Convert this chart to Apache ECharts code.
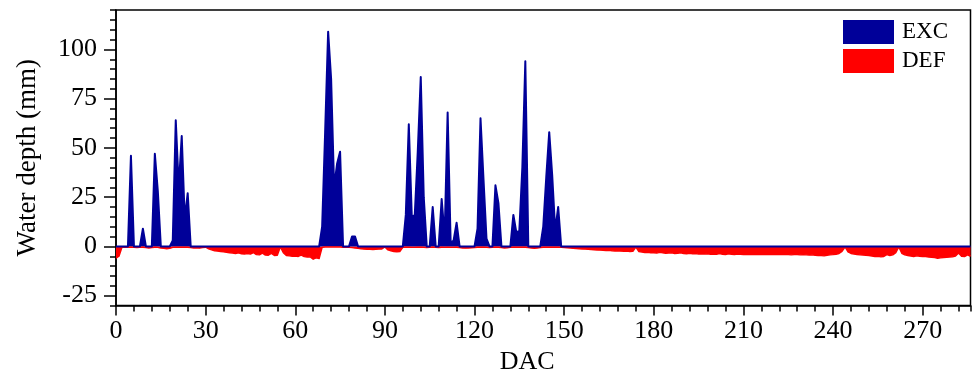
<!DOCTYPE html>
<html>
<head>
<meta charset="utf-8">
<script src="https://cdn.jsdelivr.net/npm/echarts@6/dist/echarts.min.js"></script>
<style>html,body{margin:0;padding:0;background:#fff}#c{width:974px;height:377px}</style>
</head>
<body>
<div id="c"></div>
<script>
// EXC (water excess, mm): days and values (sparse; zero elsewhere)
const excDay = [0,4,5,6,8,9,10,12,13,14,15,18,19,20,21,22,23,24,25,68,69,70,71,72,73,74,75,76,78,79,80,81,96,97,98,99,100,101,102,103,104,105,106,107,108,109,110,111,112,113,114,115,120,121,122,123,124,125,126,127,128,129,132,133,134,135,136,137,138,142,143,144,145,146,147,148,149,286];
const excVal = [0,0,46,0,0,9,0,0,47,28,0,0,3,64,30,56,14,27,0,0,10,58,109,85,30,42,48,0,0,5,5,0,0,16,62,15,16,48,86,25,0,0,20,0,0,24,5,68,2,3,12,0,0,9,65,34,4,0,0,31,22,0,0,16,7,8,40,94,0,0,10,35,58,36,8,20,0,0];
// DEF (water deficit, mm): one value per day, day = index (0..286)
const defVal = [
-6,-5,-0.5,-0.5,-0.4,-0.4,-0.5,-0.6,-0.5,-0.4,
-0.6,-0.8,-0.6,-0.4,-0.5,-0.8,-1.0,-1.2,-1.0,-0.5,
-0.4,-0.4,-0.4,-0.4,-0.4,-0.6,-0.8,-0.7,-0.9,-0.6,
-0.4,-1.2,-1.8,-2.2,-2.4,-2.6,-2.8,-3.0,-3.2,-3.4,
-3.6,-3.3,-3.8,-3.9,-3.6,-3.9,-3.2,-4.2,-4.3,-3.4,
-4.4,-4.5,-3.6,-4.6,-4.5,-0.3,-3.2,-4.6,-4.8,-5.0,
-4.9,-5.1,-4.4,-5.2,-5.4,-5.3,-6.5,-5.8,-6.2,-0.5,
-0.3,-0.3,-0.3,-0.3,-0.3,-0.3,-0.4,-0.5,-0.5,-0.6,
-0.8,-1.0,-1.2,-1.4,-1.5,-1.5,-1.6,-1.5,-1.4,-1.3,
-0.3,-1.8,-2.2,-2.6,-2.8,-2.6,-0.5,-0.4,-0.4,-0.5,
-0.5,-0.4,-0.4,-0.5,-0.6,-0.5,-0.4,-0.5,-0.6,-0.4,
-0.5,-0.4,-0.5,-0.5,-0.4,-0.6,-0.8,-0.9,-0.8,-0.7,
-0.6,-0.4,-0.4,-0.4,-0.5,-0.6,-0.5,-0.4,-0.4,-0.6,
-0.8,-0.7,-0.5,-0.4,-0.4,-0.4,-0.4,-0.4,-0.6,-0.8,
-1.0,-0.8,-0.6,-0.4,-0.4,-0.4,-0.4,-0.4,-0.4,-0.5,
-0.6,-0.7,-0.8,-1.0,-1.1,-1.2,-1.3,-1.4,-1.5,-1.6,
-1.7,-1.8,-1.9,-2.0,-2.1,-2.0,-2.2,-2.3,-2.2,-2.4,
-2.5,-2.4,-2.6,-2.5,-0.3,-2.6,-2.9,-3.1,-3.0,-3.3,
-3.2,-3.4,-3.0,-3.3,-3.5,-3.4,-3.2,-3.6,-3.5,-3.2,
-3.6,-3.7,-3.5,-3.8,-3.6,-3.9,-3.8,-3.9,-3.7,-4.0,
-3.9,-4.0,-3.6,-4.0,-4.1,-3.8,-4.0,-4.1,-3.9,-4.0,
-4.1,-4.0,-4.1,-4.0,-4.1,-4.2,-4.1,-4.0,-4.2,-4.1,
-4.2,-4.1,-4.0,-4.2,-4.1,-4.2,-4.3,-4.2,-4.1,-4.3,
-4.2,-4.3,-4.4,-4.3,-4.5,-4.6,-4.7,-4.8,-4.5,-4.3,
-4.2,-4.0,-3.6,-2.5,-0.3,-2.8,-3.6,-3.9,-4.1,-4.3,
-4.4,-4.5,-4.6,-4.9,-5.1,-5.0,-5.3,-5.1,-4.2,-4.6,
-4.3,-3.2,-0.3,-3.5,-4.3,-4.6,-4.9,-5.1,-4.8,-5.0,
-5.2,-5.1,-5.4,-5.5,-5.7,-6.0,-5.8,-5.6,-5.5,-5.4,
-5.3,-4.9,-3.4,-5.0,-5.2,-4.3,-5.0
];
const xMajorTicks = [0,30,60,90,120,150,180,210,240,270];
const yMajorTicks = [-25,0,25,50,75,100];
const seriesNames = ['EXC','DEF'];
const axisNames = {x:'DAC', y:'Water depth (mm)'};

const FONT = 'Liberation Serif';
const BLUE = '#000099';
const RED = '#ff0000';
const black = {color:'#000', width:1.5};

const chart = echarts.init(document.getElementById('c'), null, {renderer:'canvas'});
chart.setOption({
  animation:false,
  backgroundColor:'#fff',
  grid:{left:116, right:3.5, top:10, bottom:71.5, outerBoundsMode:'none', containLabel:false,
        show:true, borderColor:'#000', borderWidth:1.5, backgroundColor:'transparent'},
  legend:{
    data:seriesNames, orient:'vertical', left:843, top:20, padding:0,
    itemWidth:51, itemHeight:24, itemGap:5, icon:'rect',
    textStyle:{fontFamily:FONT, fontSize:23, color:'#000', padding:[0,0,0,3]}
  },
  xAxis:[
    {type:'value', min:0, max:286, position:'bottom',
     axisLine:{show:true, onZero:false, lineStyle:black},
     axisTick:{show:true, inside:false, length:10, customValues:xMajorTicks, lineStyle:black},
     axisLabel:{customValues:xMajorTicks, fontFamily:FONT, fontSize:26, color:'#000', margin:13},
     splitLine:{show:false},
     name:axisNames.x, nameLocation:'middle', nameGap:40,
     nameTextStyle:{fontFamily:FONT, fontSize:26, color:'#000', padding:[0,32,0,0]}},
    {type:'value', min:0, max:286, interval:6, position:'bottom',
     axisLine:{show:false, onZero:false},
     axisTick:{show:true, inside:false, length:6, lineStyle:black},
     axisLabel:{show:false}, splitLine:{show:false}}
  ],
  yAxis:[
    {type:'value', min:-30, max:120, position:'left',
     axisLine:{show:true, onZero:false, lineStyle:black},
     axisTick:{show:true, inside:false, length:12, customValues:yMajorTicks, lineStyle:black},
     axisLabel:{customValues:yMajorTicks, fontFamily:FONT, fontSize:26, color:'#000', margin:19},
     splitLine:{show:false},
     name:axisNames.y, nameLocation:'middle', nameGap:75, nameRotate:90,
     nameTextStyle:{fontFamily:FONT, fontSize:27, color:'#000'}},
    {type:'value', min:-30, max:120, interval:5, position:'left',
     axisLine:{show:false, onZero:false},
     axisTick:{show:true, inside:false, length:6, lineStyle:black},
     axisLabel:{show:false}, splitLine:{show:false}}
  ],
  series:[
    {name:seriesNames[1], type:'line', xAxisIndex:0, yAxisIndex:0,
     data:defVal.map((v,i)=>[i,v]), symbol:'none', smooth:false,
     lineStyle:{color:RED, width:1.4, join:'round'},
     itemStyle:{color:RED},
     areaStyle:{color:RED, opacity:1}},
    {name:seriesNames[0], type:'line', xAxisIndex:0, yAxisIndex:0,
     data:excDay.map((d,i)=>[d, excVal[i]]), symbol:'none', smooth:false,
     lineStyle:{color:BLUE, width:2, join:'round'},
     itemStyle:{color:BLUE},
     areaStyle:{color:BLUE, opacity:1}}
  ]
});
</script>
</body>
</html>
